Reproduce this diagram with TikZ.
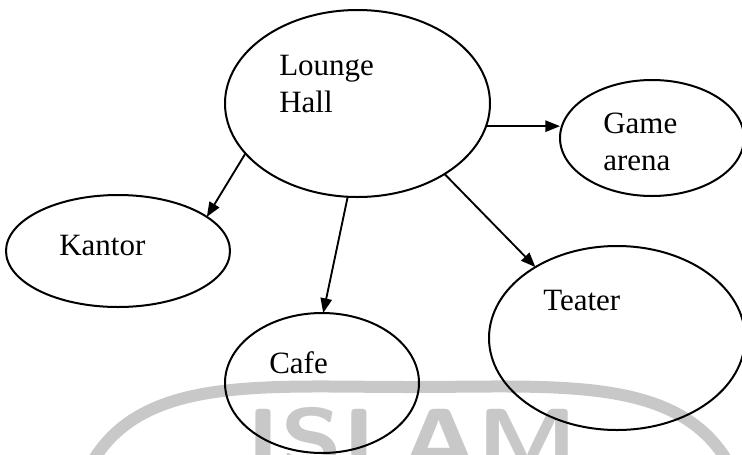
\documentclass[tikz,border=0pt]{standalone}
\usepackage{fontspec}
\setmainfont{Liberation Serif}
\usetikzlibrary{shapes.geometric, arrows.meta}
\definecolor{wmgray}{RGB}{200,200,200}
\tikzset{
  room/.style={draw, ellipse, line width=1.5pt, inner sep=0pt, outer sep=0pt},
  lbl/.style={anchor=base west, inner sep=0pt, align=left, font=\fontsize{23.25}{27.75}\selectfont},
  link/.style={line width=1.4pt, -{Triangle[length=11pt,width=8.5pt]}},
}

\begin{document}
\begin{tikzpicture}[x=0.75pt,y=0.75pt,yscale=-1,xscale=1]
\useasboundingbox (0,0) rectangle (742,454);

%Watermark
\begin{scope}
\clip (0,0) rectangle (742,454);
\draw [wmgray, line width=9pt] (90,466) .. controls (140,375) and (260,387) .. (410,387) .. controls (560,387) and (680,375) .. (730,466);
\node [wmgray, anchor=base, inner sep=0pt, font=\sffamily\bfseries\fontsize{64}{64}\selectfont] (wmark) at (412,468) {\scalebox{1.2}[1]{ISLAM}};
\end{scope}

%Shape: Ellipse
\node [room, minimum width=198.75pt, minimum height=140.25pt] (lounge) at (357.5,103.5) {};
%Shape: Ellipse
\node [room, minimum width=138pt, minimum height=87pt] (game) at (652,138) {};
%Shape: Ellipse
\node [room, minimum width=168pt, minimum height=84pt] (kantor) at (118,251) {};
%Shape: Ellipse
\node [room, minimum width=145.5pt, minimum height=105pt] (cafe) at (322,383) {};
%Shape: Ellipse
\node [room, minimum width=192pt, minimum height=138pt] (teater) at (617,338) {};

%Straight Lines
\draw [link] (lounge.350) -- (lounge.350 -| game.west);
\draw [link] (lounge.204) -- (kantor.21);
\draw [link] (lounge.264) -- (cafe.89);
\draw [link] (lounge.321) -- (teater.139);

% Text Node
\node [lbl] (loungetxt) at (279,112) {Lounge\\Hall};
% Text Node
\node [lbl] (gametxt) at (603,170) {Game\\arena};
% Text Node
\node [lbl] (kantortxt) at (59,255) {Kantor};
% Text Node
\node [lbl] (cafetxt) at (269,373) {Cafe};
% Text Node
\node [lbl] (teatertxt) at (543,310) {Teater};

\end{tikzpicture}
\end{document}
